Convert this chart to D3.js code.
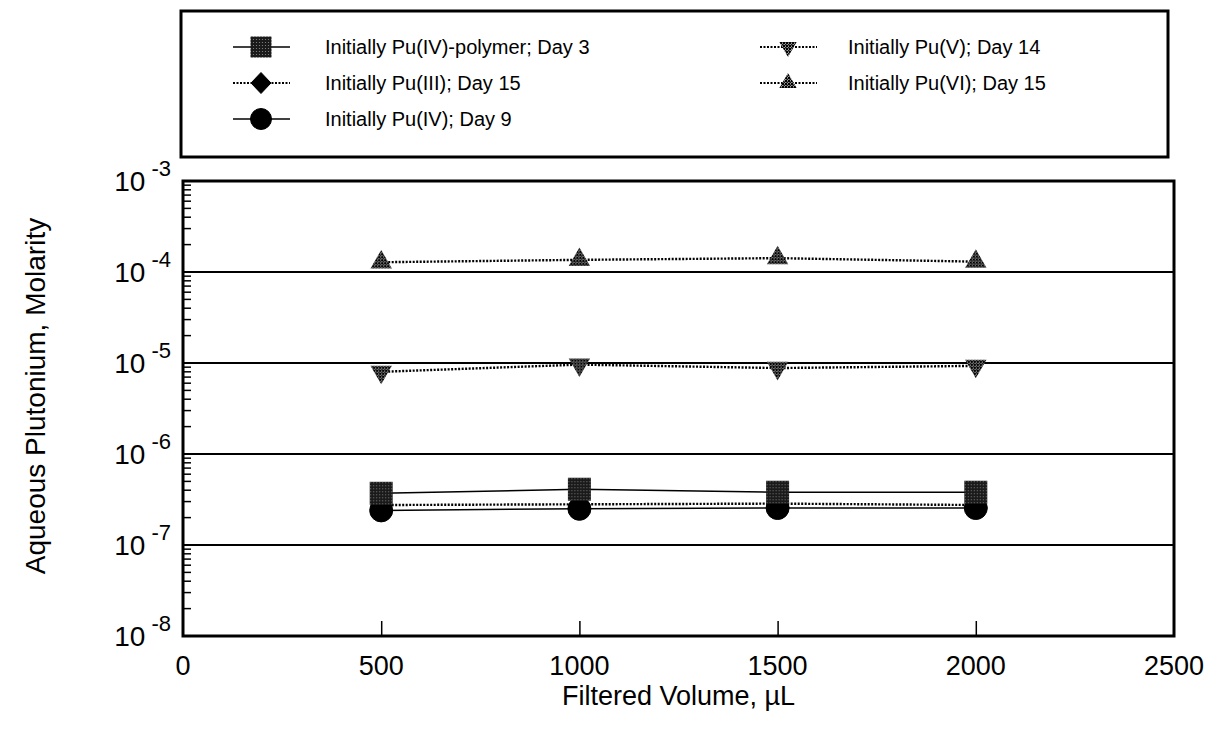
<!DOCTYPE html>
<html>
<head>
<meta charset="utf-8">
<script src="https://cdn.jsdelivr.net/npm/d3@7"></script>
<style>
  body { margin: 0; background: #fff; }
  svg { font-family: "Liberation Sans", Arial, Helvetica, sans-serif; }
</style>
</head>
<body>
<div id="chart"></div>
<script>
// filtered volumes (uL)
var volumes = [500, 1000, 1500, 2000];

// aqueous Pu molarity
var puPolymerDay3 = [3.7e-7, 4.1e-7, 3.8e-7, 3.8e-7];
var puIIIDay15    = [2.75e-7, 2.8e-7, 2.85e-7, 2.75e-7];
var puIVDay9      = [2.4e-7, 2.5e-7, 2.55e-7, 2.55e-7];
var puVDay14      = [8.0e-6, 9.6e-6, 8.8e-6, 9.3e-6];
var puVIDay15     = [1.28e-4, 1.36e-4, 1.42e-4, 1.3e-4];

var seriesNames = [
	"Initially Pu(IV)-polymer; Day 3",
	"Initially Pu(III); Day 15",
	"Initially Pu(IV); Day 9",
	"Initially Pu(V); Day 14",
	"Initially Pu(VI); Day 15"
];

var xTicks = [0, 500, 1000, 1500, 2000, 2500];
var yDecades = [-3, -4, -5, -6, -7, -8];

var series = [
	{name: seriesNames[0], values: puPolymerDay3, marker: "square", fill: "url(#dots)", dash: null},
	{name: seriesNames[1], values: puIIIDay15, marker: "diamond", fill: "#000", dash: "2,1.5"},
	{name: seriesNames[2], values: puIVDay9, marker: "circle", fill: "#000", dash: null},
	{name: seriesNames[3], values: puVDay14, marker: "tridown", fill: "url(#checks)", dash: "2,1.5"},
	{name: seriesNames[4], values: puVIDay15, marker: "triup", fill: "url(#checks)", dash: "2,1.5"}
];

var W = 1218, H = 736;
var margin = {top: 181, right: 44, bottom: 100, left: 183};
var width = W - margin.left - margin.right,
	height = H - margin.top - margin.bottom;

var svg = d3.select("#chart").append("svg")
	.attr("width", W)
	.attr("height", H);

// fill patterns for the hatched markers
var defs = svg.append("defs");
var dots = defs.append("pattern").attr("id", "dots")
	.attr("width", 3).attr("height", 3).attr("patternUnits", "userSpaceOnUse");
dots.append("rect").attr("width", 3).attr("height", 3).attr("fill", "#1a1a1a");
dots.append("circle").attr("cx", 1.5).attr("cy", 1.5).attr("r", 0.6).attr("fill", "#888");
var checks = defs.append("pattern").attr("id", "checks")
	.attr("width", 3).attr("height", 3).attr("patternUnits", "userSpaceOnUse");
checks.append("rect").attr("width", 3).attr("height", 3).attr("fill", "#999");
checks.append("rect").attr("width", 2).attr("height", 2).attr("fill", "#000");
checks.append("rect").attr("x", 1.5).attr("y", 1.5).attr("width", 1.5).attr("height", 1.5).attr("fill", "#111");

var g = svg.append("g")
	.attr("transform", "translate(" + margin.left + "," + margin.top + ")");

var x = d3.scaleLinear().domain([0, 2500]).range([0, width]);
var y = d3.scaleLog().domain([1e-8, 1e-3]).range([height, 0]);

function markerPath(type, size) {
	if (type == "square") return d3.symbol(d3.symbolSquare, size * size)();
	if (type == "circle") return d3.symbol(d3.symbolCircle, Math.PI * size * size / 4)();
	if (type == "diamond") {
		var h = size / 2;
		return "M0," + (-h) + "L" + (h * 0.95) + ",0L0," + h + "L" + (-h * 0.95) + ",0Z";
	}
	return d3.symbol(d3.symbolTriangle, size * size * 0.45)();
}

// decade grid lines
g.selectAll(".grid")
	.data(yDecades.slice(1, -1))
  .enter().append("line")
	.attr("x1", 0).attr("x2", width)
	.attr("y1", function(d) { return y(Math.pow(10, d)); })
	.attr("y2", function(d) { return y(Math.pow(10, d)); })
	.attr("stroke", "#000").attr("stroke-width", 2);

// minor log ticks on the left axis, pointing inward
var minor = [];
for (var e = -8; e < -3; e++) {
	for (var m = 2; m <= 9; m++) minor.push(m * Math.pow(10, e));
}
g.selectAll(".minor")
	.data(minor)
  .enter().append("line")
	.attr("x1", 0).attr("x2", 8)
	.attr("y1", function(d) { return y(d); })
	.attr("y2", function(d) { return y(d); })
	.attr("stroke", "#000").attr("stroke-width", 1.5);

// x ticks inward from the bottom
var xAxis = d3.axisBottom(x).tickValues(xTicks.slice(1, -1)).tickSize(-15).tickFormat("");
g.append("g")
	.attr("transform", "translate(0," + height + ")")
	.call(xAxis)
	.call(function(a) {
		a.select(".domain").remove();
		a.selectAll("line").attr("stroke-width", 1.5);
	});

// frame
g.append("rect")
	.attr("width", width).attr("height", height)
	.attr("fill", "none").attr("stroke", "#000").attr("stroke-width", 3);

// x tick labels
g.selectAll(".xlab")
	.data(xTicks)
  .enter().append("text")
	.attr("x", function(d) { return x(d); })
	.attr("y", height + 39)
	.attr("text-anchor", "middle")
	.style("font-size", "27px")
	.text(function(d) { return d; });

// y tick labels 10^n
var ylab = g.selectAll(".ylab")
	.data(yDecades)
  .enter().append("text")
	.attr("x", -12)
	.attr("y", function(d) { return y(Math.pow(10, d)) + 10; })
	.attr("text-anchor", "end")
	.style("font-size", "28px");
ylab.append("tspan").text("10");
ylab.append("tspan")
	.attr("dx", 6).attr("dy", -15)
	.style("font-size", "22px")
	.text(function(d) { return "-" + Math.abs(d); });

// axis titles
svg.append("text")
	.attr("x", margin.left + width / 2)
	.attr("y", 705)
	.attr("text-anchor", "middle")
	.style("font-size", "27px")
	.text("Filtered Volume, \u00b5L");
svg.append("text")
	.attr("transform", "translate(45," + 396 + ") rotate(-90)")
	.attr("text-anchor", "middle")
	.style("font-size", "28px")
	.text("Aqueous Plutonium, Molarity");

// series lines and markers
var line = d3.line()
	.x(function(d, i) { return x(volumes[i]); })
	.y(function(d) { return y(d); });

var sizes = {square: 23, circle: 23, diamond: 22, tridown: 21, triup: 21};

series.forEach(function(s) {
	g.append("path")
		.attr("d", line(s.values))
		.attr("fill", "none")
		.attr("stroke", "#000")
		.attr("stroke-width", s.dash ? 2.4 : 1.5)
		.attr("stroke-dasharray", s.dash);
});
// draw the big markers bottom-up so squares sit over circles like the print
[2, 1, 0, 3, 4].forEach(function(k) {
	var s = series[k];
	g.selectAll(".m" + k)
		.data(s.values)
	  .enter().append("path")
		.attr("d", markerPath(s.marker, sizes[s.marker]))
		.attr("transform", function(d, i) {
			return "translate(" + x(volumes[i]) + "," + y(d) + ")" + (s.marker == "tridown" ? " rotate(180)" : "");
		})
		.attr("fill", s.fill)
		.attr("stroke", s.marker == "circle" || s.marker == "diamond" ? "#000" : "none");
});

// legend
var leg = svg.append("g");
leg.append("rect")
	.attr("x", 181).attr("y", 11).attr("width", 987).attr("height", 146)
	.attr("fill", "#fff").attr("stroke", "#000").attr("stroke-width", 3);

var legPos = [
	{x: 233, y: 47}, {x: 233, y: 83}, {x: 233, y: 119},
	{x: 760, y: 47}, {x: 760, y: 83}
];
series.forEach(function(s, i) {
	var p = legPos[i];
	var lg = leg.append("g").attr("transform", "translate(" + p.x + "," + p.y + ")");
	lg.append("line")
		.attr("x1", 0).attr("x2", 57)
		.attr("stroke", "#000")
		.attr("stroke-width", s.dash ? 2.2 : 1.5)
		.attr("stroke-dasharray", s.dash);
	lg.append("path")
		.attr("d", markerPath(s.marker, s.marker == "triup" || s.marker == "tridown" ? 17 : 21))
		.attr("transform", "translate(28,0)" + (s.marker == "tridown" ? " rotate(180)" : ""))
		.attr("fill", s.fill)
		.attr("stroke", s.marker == "circle" || s.marker == "diamond" ? "#000" : "none");
	lg.append("text")
		.attr("x", i < 3 ? 92 : 88)
		.attr("y", 7)
		.style("font-size", "20px")
		.text(s.name);
});
</script>
</body>
</html>
